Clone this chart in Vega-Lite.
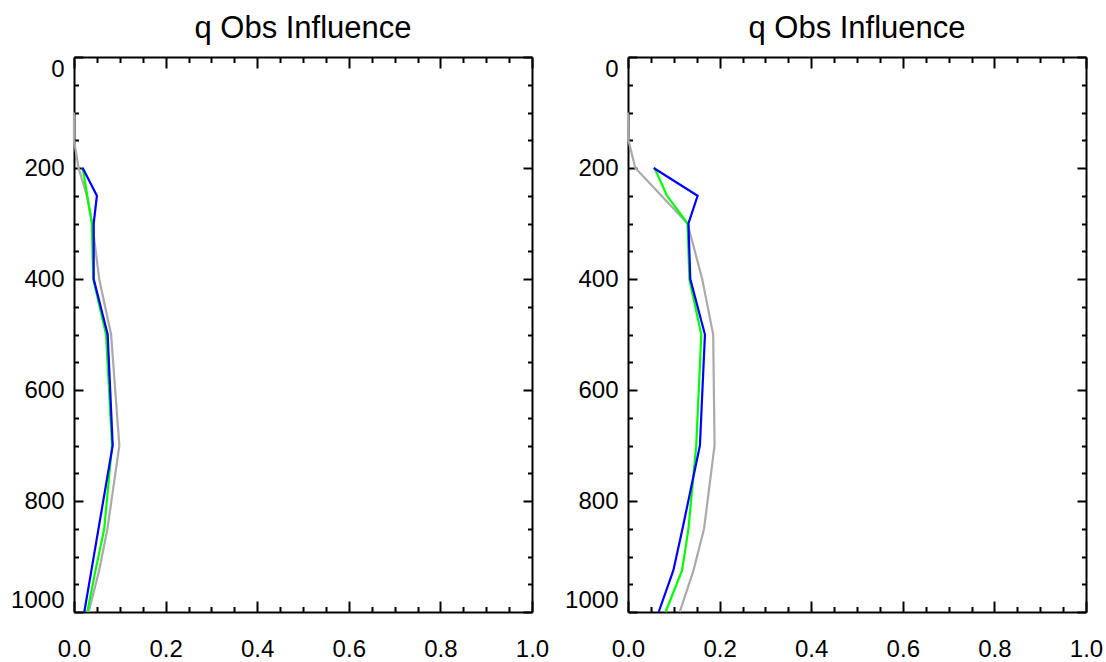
{
  "$schema": "https://vega.github.io/schema/vega-lite/v6.json",
  "padding": {"left": 10, "top": 13, "right": 5, "bottom": 5},
  "background": "white",
  "bounds": "flush",
  "spacing": 96,
  "config": {
    "view": {"stroke": null},
    "font": "Liberation Sans",
    "title": {"font": "Liberation Sans", "fontSize": 31, "fontWeight": "normal", "color": "black", "frame": "group", "anchor": "middle", "offset": 11, "baseline": "alphabetic"},
    "axis": {"domainColor": "black", "domainWidth": 2, "tickColor": "black", "tickWidth": 2, "labelFont": "Liberation Sans", "labelFontSize": 24, "labelColor": "black", "grid": false, "title": null, "labelOverlap": false}
  },
  "datasets": {
    "left": [
      {"s": "gray", "p": 100, "v": 0.0},
      {"s": "gray", "p": 150, "v": 0.0},
      {"s": "gray", "p": 200, "v": 0.01},
      {"s": "gray", "p": 250, "v": 0.028},
      {"s": "gray", "p": 300, "v": 0.04},
      {"s": "gray", "p": 400, "v": 0.055},
      {"s": "gray", "p": 500, "v": 0.081},
      {"s": "gray", "p": 700, "v": 0.099},
      {"s": "gray", "p": 850, "v": 0.073},
      {"s": "gray", "p": 925, "v": 0.055},
      {"s": "gray", "p": 1000, "v": 0.032},
      {"s": "green", "p": 200, "v": 0.019},
      {"s": "green", "p": 250, "v": 0.029},
      {"s": "green", "p": 300, "v": 0.039},
      {"s": "green", "p": 400, "v": 0.042},
      {"s": "green", "p": 500, "v": 0.07},
      {"s": "green", "p": 700, "v": 0.083},
      {"s": "green", "p": 850, "v": 0.066},
      {"s": "green", "p": 925, "v": 0.047},
      {"s": "green", "p": 1000, "v": 0.029},
      {"s": "blue", "p": 200, "v": 0.019},
      {"s": "blue", "p": 250, "v": 0.05},
      {"s": "blue", "p": 300, "v": 0.043},
      {"s": "blue", "p": 400, "v": 0.043},
      {"s": "blue", "p": 500, "v": 0.0735},
      {"s": "blue", "p": 700, "v": 0.0845},
      {"s": "blue", "p": 850, "v": 0.0535},
      {"s": "blue", "p": 925, "v": 0.038},
      {"s": "blue", "p": 1000, "v": 0.0225}
    ],
    "right": [
      {"s": "gray", "p": 100, "v": 0.0},
      {"s": "gray", "p": 150, "v": 0.001},
      {"s": "gray", "p": 200, "v": 0.016},
      {"s": "gray", "p": 250, "v": 0.073},
      {"s": "gray", "p": 300, "v": 0.13},
      {"s": "gray", "p": 400, "v": 0.162},
      {"s": "gray", "p": 500, "v": 0.186},
      {"s": "gray", "p": 700, "v": 0.189},
      {"s": "gray", "p": 850, "v": 0.166},
      {"s": "gray", "p": 925, "v": 0.143},
      {"s": "gray", "p": 1000, "v": 0.113},
      {"s": "green", "p": 200, "v": 0.058},
      {"s": "green", "p": 250, "v": 0.085},
      {"s": "green", "p": 300, "v": 0.13},
      {"s": "green", "p": 400, "v": 0.134},
      {"s": "green", "p": 500, "v": 0.16},
      {"s": "green", "p": 700, "v": 0.149},
      {"s": "green", "p": 850, "v": 0.132},
      {"s": "green", "p": 925, "v": 0.118},
      {"s": "green", "p": 1000, "v": 0.082},
      {"s": "blue", "p": 200, "v": 0.056},
      {"s": "blue", "p": 250, "v": 0.152},
      {"s": "blue", "p": 300, "v": 0.132},
      {"s": "blue", "p": 400, "v": 0.136},
      {"s": "blue", "p": 500, "v": 0.168},
      {"s": "blue", "p": 700, "v": 0.157},
      {"s": "blue", "p": 850, "v": 0.119},
      {"s": "blue", "p": 925, "v": 0.099},
      {"s": "blue", "p": 1000, "v": 0.067}
    ]
  },
  "hconcat": [
    {
      "title": "q Obs Influence",
      "width": 458,
      "height": 555,
      "data": {"name": "left"},
      "resolve": {"axis": {"x": "independent", "y": "independent"}},
      "layer": [
        {
          "mark": {"type": "line", "strokeWidth": 2.2},
          "encoding": {
            "x": {"field": "v", "type": "quantitative", "scale": {"domain": [0, 1], "nice": false, "zero": false},
              "axis": {"orient": "bottom", "values": [0, 0.2, 0.4, 0.6, 0.8, 1.0], "format": ".1f", "tickSize": -11, "labelPadding": 36, "labelFlush": false}},
            "y": {"field": "p", "type": "quantitative", "scale": {"domain": [0, 1000], "nice": false, "zero": false, "reverse": true},
              "axis": {"orient": "left", "values": [0, 200, 400, 600, 800, 1000], "format": "d", "tickSize": -9, "labelPadding": 19, "labelFlush": true}},
            "color": {"field": "s", "type": "nominal", "scale": {"domain": ["gray", "green", "blue"], "range": ["#aaaaaa", "#00ff00", "#0000ff"]}, "legend": null},
            "order": {"field": "p", "type": "quantitative"}
          }
        },
        {
          "mark": {"type": "point", "opacity": 0},
          "encoding": {
            "x": {"field": "v", "type": "quantitative", "axis": {"orient": "bottom", "values": [0.05, 0.1, 0.15, 0.25, 0.3, 0.35, 0.45, 0.5, 0.55, 0.65, 0.7, 0.75, 0.85, 0.9, 0.95], "labels": false, "domain": false, "tickSize": -5.5}},
            "y": {"field": "p", "type": "quantitative", "axis": {"orient": "left", "values": [50, 100, 150, 250, 300, 350, 450, 500, 550, 650, 700, 750, 850, 900, 950], "labels": false, "domain": false, "tickSize": -4.5}}
          }
        },
        {
          "mark": {"type": "point", "opacity": 0},
          "encoding": {
            "x": {"field": "v", "type": "quantitative", "axis": {"orient": "top", "values": [0, 0.2, 0.4, 0.6, 0.8, 1.0], "labels": false, "tickSize": -11}},
            "y": {"field": "p", "type": "quantitative", "axis": {"orient": "right", "values": [0, 200, 400, 600, 800, 1000], "labels": false, "tickSize": -9}}
          }
        },
        {
          "mark": {"type": "point", "opacity": 0},
          "encoding": {
            "x": {"field": "v", "type": "quantitative", "axis": {"orient": "top", "values": [0.05, 0.1, 0.15, 0.25, 0.3, 0.35, 0.45, 0.5, 0.55, 0.65, 0.7, 0.75, 0.85, 0.9, 0.95], "labels": false, "domain": false, "tickSize": -5.5}},
            "y": {"field": "p", "type": "quantitative", "axis": {"orient": "right", "values": [50, 100, 150, 250, 300, 350, 450, 500, 550, 650, 700, 750, 850, 900, 950], "labels": false, "domain": false, "tickSize": -4.5}}
          }
        }
      ]
    },
    {
      "title": "q Obs Influence",
      "width": 458,
      "height": 555,
      "data": {"name": "right"},
      "resolve": {"axis": {"x": "independent", "y": "independent"}},
      "layer": [
        {
          "mark": {"type": "line", "strokeWidth": 2.2},
          "encoding": {
            "x": {"field": "v", "type": "quantitative", "scale": {"domain": [0, 1], "nice": false, "zero": false},
              "axis": {"orient": "bottom", "values": [0, 0.2, 0.4, 0.6, 0.8, 1.0], "format": ".1f", "tickSize": -11, "labelPadding": 36, "labelFlush": false}},
            "y": {"field": "p", "type": "quantitative", "scale": {"domain": [0, 1000], "nice": false, "zero": false, "reverse": true},
              "axis": {"orient": "left", "values": [0, 200, 400, 600, 800, 1000], "format": "d", "tickSize": -9, "labelPadding": 19, "labelFlush": true}},
            "color": {"field": "s", "type": "nominal", "scale": {"domain": ["gray", "green", "blue"], "range": ["#aaaaaa", "#00ff00", "#0000ff"]}, "legend": null},
            "order": {"field": "p", "type": "quantitative"}
          }
        },
        {
          "mark": {"type": "point", "opacity": 0},
          "encoding": {
            "x": {"field": "v", "type": "quantitative", "axis": {"orient": "bottom", "values": [0.05, 0.1, 0.15, 0.25, 0.3, 0.35, 0.45, 0.5, 0.55, 0.65, 0.7, 0.75, 0.85, 0.9, 0.95], "labels": false, "domain": false, "tickSize": -5.5}},
            "y": {"field": "p", "type": "quantitative", "axis": {"orient": "left", "values": [50, 100, 150, 250, 300, 350, 450, 500, 550, 650, 700, 750, 850, 900, 950], "labels": false, "domain": false, "tickSize": -4.5}}
          }
        },
        {
          "mark": {"type": "point", "opacity": 0},
          "encoding": {
            "x": {"field": "v", "type": "quantitative", "axis": {"orient": "top", "values": [0, 0.2, 0.4, 0.6, 0.8, 1.0], "labels": false, "tickSize": -11}},
            "y": {"field": "p", "type": "quantitative", "axis": {"orient": "right", "values": [0, 200, 400, 600, 800, 1000], "labels": false, "tickSize": -9}}
          }
        },
        {
          "mark": {"type": "point", "opacity": 0},
          "encoding": {
            "x": {"field": "v", "type": "quantitative", "axis": {"orient": "top", "values": [0.05, 0.1, 0.15, 0.25, 0.3, 0.35, 0.45, 0.5, 0.55, 0.65, 0.7, 0.75, 0.85, 0.9, 0.95], "labels": false, "domain": false, "tickSize": -5.5}},
            "y": {"field": "p", "type": "quantitative", "axis": {"orient": "right", "values": [50, 100, 150, 250, 300, 350, 450, 500, 550, 650, 700, 750, 850, 900, 950], "labels": false, "domain": false, "tickSize": -4.5}}
          }
        }
      ]
    }
  ]
}
